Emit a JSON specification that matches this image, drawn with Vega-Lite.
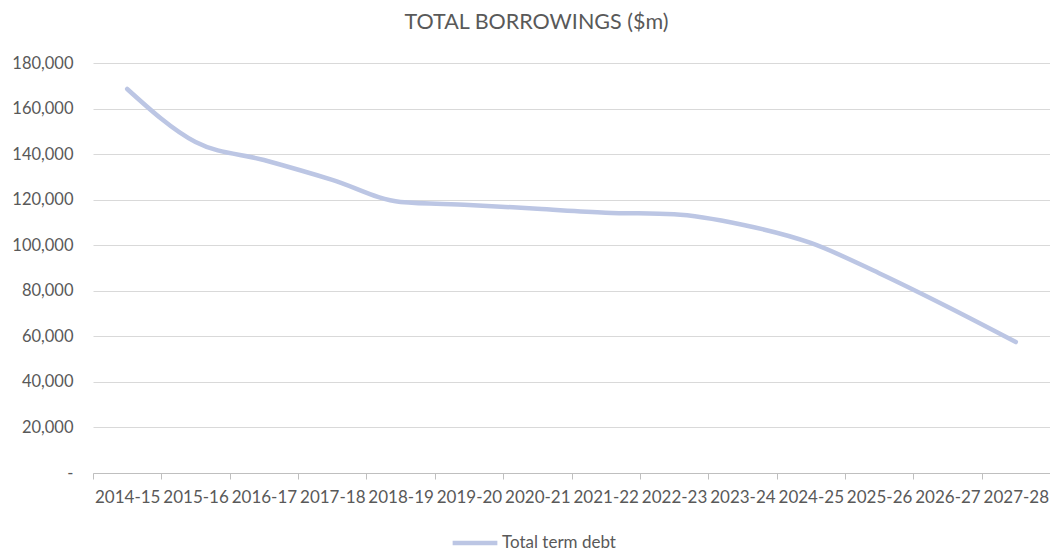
{
  "$schema": "https://vega.github.io/schema/vega-lite/v6.json",
  "width": 957,
  "height": 410,
  "autosize": {"type": "none"},
  "padding": {"left": 93, "top": 63, "right": 0, "bottom": 78},
  "background": "white",
  "title": {
    "text": "TOTAL BORROWINGS ($m)",
    "font": "Lato",
    "fontSize": 21.5,
    "fontWeight": "normal",
    "color": "#595959",
    "anchor": "middle",
    "dx": -35,
    "offset": 22
  },
  "config": {
    "view": {"stroke": null},
    "font": "Lato"
  },
  "data": {
    "values": [
      {"year": "2014-15", "debt": 168600, "series": "Total term debt"},
      {"year": "2015-16", "debt": 145300, "series": "Total term debt"},
      {"year": "2016-17", "debt": 137400, "series": "Total term debt"},
      {"year": "2017-18", "debt": 128700, "series": "Total term debt"},
      {"year": "2018-19", "debt": 119000, "series": "Total term debt"},
      {"year": "2019-20", "debt": 117700, "series": "Total term debt"},
      {"year": "2020-21", "debt": 116000, "series": "Total term debt"},
      {"year": "2021-22", "debt": 114300, "series": "Total term debt"},
      {"year": "2022-23", "debt": 113600, "series": "Total term debt"},
      {"year": "2023-24", "debt": 109000, "series": "Total term debt"},
      {"year": "2024-25", "debt": 101000, "series": "Total term debt"},
      {"year": "2025-26", "debt": 87700, "series": "Total term debt"},
      {"year": "2026-27", "debt": 73000, "series": "Total term debt"},
      {"year": "2027-28", "debt": 57500, "series": "Total term debt"}
    ]
  },
  "mark": {"type": "line", "interpolate": "monotone", "strokeWidth": 4.5, "strokeCap": "round"},
  "encoding": {
    "x": {
      "field": "year",
      "type": "ordinal",
      "sort": null,
      "scale": {"type": "band", "paddingInner": 0, "paddingOuter": 0},
      "axis": {
        "title": null,
        "labelAngle": 0,
        "labelFontSize": 17,
        "labelColor": "#595959",
        "labelOverlap": false,
        "labelLimit": 0,
        "labelPadding": 10,
        "tickBand": "extent",
        "tickSize": 6,
        "tickColor": "#bfbfbf",
        "domainColor": "#bfbfbf",
        "grid": false
      }
    },
    "y": {
      "field": "debt",
      "type": "quantitative",
      "scale": {"domain": [0, 180000], "nice": false},
      "axis": {
        "title": null,
        "values": [0, 20000, 40000, 60000, 80000, 100000, 120000, 140000, 160000, 180000],
        "labelExpr": "datum.value === 0 ? '-\u00a0\u00a0\u00a0\u00a0\u00a0\u00a0' : format(datum.value, ',')",
        "labelFontSize": 16.5,
        "labelColor": "#595959",
        "labelPadding": 20,
        "domain": false,
        "ticks": false,
        "gridColor": "#d9d9d9",
        "gridWidth": 1
      }
    },
    "color": {
      "field": "series",
      "type": "nominal",
      "scale": {"range": ["#bcc6e4"]},
      "legend": {
        "title": null,
        "orient": "none",
        "legendX": 357,
        "legendY": 455,
        "symbolType": "stroke",
        "symbolStrokeWidth": 4.5,
        "symbolSize": 2000,
        "labelFontSize": 17,
        "labelColor": "#595959",
        "labelOffset": 2
      }
    }
  }
}
